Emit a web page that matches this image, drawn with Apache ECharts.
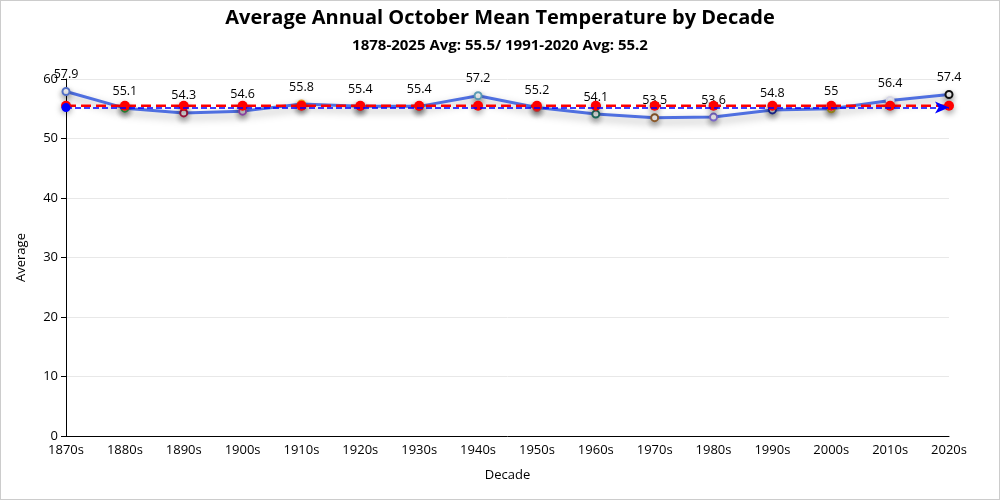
<!DOCTYPE html>
<html><head><meta charset="utf-8">
<script src="https://cdn.jsdelivr.net/npm/echarts@6/dist/echarts.min.js"></script>
<style>html,body{margin:0;padding:0;background:#fff}#c{width:1000px;height:500px;box-sizing:border-box;border:1px solid #ccc}</style>
</head><body><div id="c"></div>
<script>
const categories = ['1870s','1880s','1890s','1900s','1910s','1920s','1930s','1940s','1950s','1960s','1970s','1980s','1990s','2000s','2010s','2020s'];
const decadeAvg = [57.9,55.1,54.3,54.6,55.8,55.4,55.4,57.2,55.2,54.1,53.5,53.6,54.8,55,56.4,57.4];
const pointColors = ['#5470c6','#2e9e3e','#a0153e','#9b4bb5','#f39c12','#e05050','#e05050','#5a9bb5','#e05050','#1e6b5c','#8b5a2b','#7b68c8','#1a2a9c','#b5a020','#d8d8e8','#111111'];
const longAvg = 55.5;
const normalAvg = 55.2;
const longAvgLine = categories.map(() => longAvg);

const chart = echarts.init(document.getElementById('c'));
const font = '"Open Sans", "Noto Sans", sans-serif';
chart.setOption({
  textStyle:{fontFamily:font},
  title:{text:'Average Annual October Mean Temperature by Decade',
    subtext:'1878-2025 Avg: 55.5/ 1991-2020 Avg: 55.2',
    left:'center', top:2, itemGap:10,
    textStyle:{fontSize:20,fontWeight:'bold',color:'#000',fontFamily:font},
    subtextStyle:{fontSize:15,fontWeight:'bold',color:'#000',fontFamily:font}},
  grid:{left:65,right:50,top:78,bottom:63},
  xAxis:{type:'category',data:categories,boundaryGap:false,name:'Decade',nameLocation:'middle',nameGap:33,
    nameTextStyle:{color:'#000',fontSize:13},
    axisLine:{lineStyle:{color:'#000'}},axisTick:{show:false},
    axisLabel:{color:'#000',fontSize:13}},
  yAxis:{type:'value',min:0,max:60,interval:10,name:'Average',nameLocation:'middle',nameGap:38,
    nameTextStyle:{color:'#000',fontSize:13},
    axisLine:{show:true,lineStyle:{color:'#000'}},axisTick:{show:true},
    axisLabel:{color:'#000',fontSize:13},splitLine:{lineStyle:{color:'#e8e8e8'}}},
  series:[
    {type:'line',data:decadeAvg.map((v,i)=>({value:v,itemStyle:{color:pointColors[i],borderColor:pointColors[i]}})),
     symbol:'emptyCircle',symbolSize:7,
     lineStyle:{color:'#4f6fe0',width:3,shadowColor:'rgba(0,0,0,0.35)',shadowBlur:8,shadowOffsetY:4},
     itemStyle:{borderWidth:2,shadowColor:'rgba(0,0,0,0.4)',shadowBlur:6,shadowOffsetY:3},
     label:{show:true,position:'top',color:'#000',fontSize:12.5,distance:6},
     markLine:{silent:true,symbol:['circle','arrow'],symbolSize:[9,14],
       lineStyle:{color:'#0000ff',type:'dashed',width:1.5},label:{show:false},
       data:[{yAxis:normalAvg}]},
     z:2},
    {type:'line',data:longAvgLine,symbol:'circle',symbolSize:10,
     lineStyle:{color:'#ff0000',type:'dashed',width:2.5},
     itemStyle:{color:'#ff0000',shadowColor:'rgba(0,0,0,0.4)',shadowBlur:6,shadowOffsetY:3},
     z:3}
  ]
});
</script></body></html>
